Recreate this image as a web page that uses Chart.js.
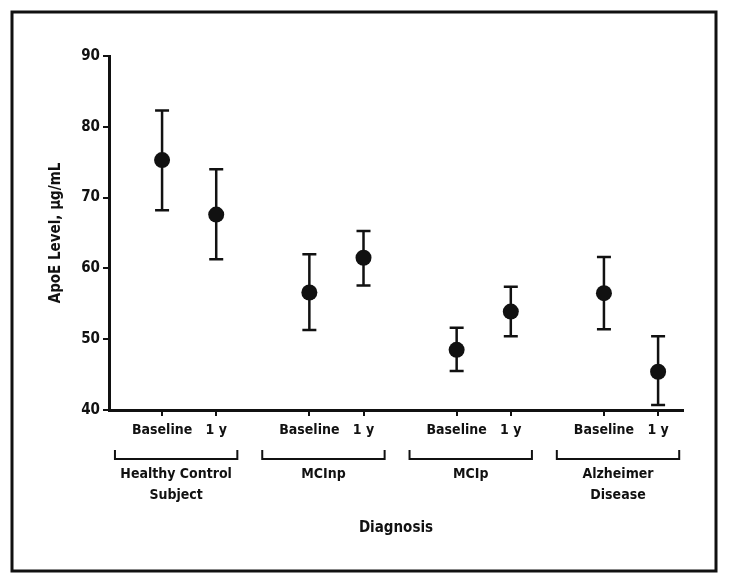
<!DOCTYPE html>
<html>
<head>
<meta charset="utf-8">
<script src="https://cdn.jsdelivr.net/npm/chart.js@4/dist/chart.umd.min.js"></script>
<style>
  html, body { margin: 0; padding: 0; background: #fff; }
  #wrap { width: 729px; height: 584px; }
</style>
</head>
<body>
<div id="wrap"><canvas id="apoeChart" width="729" height="584"></canvas></div>
<script>
// groups and time points
const groupNames = [['Healthy Control', 'Subject'], ['MCInp'], ['MCIp'], ['Alzheimer', 'Disease']];
const timeLabels = ['Baseline', '1 y'];

// ApoE level, µg/mL (mean and error bar ends)
const baselineMean = [75.3, 56.6, 48.5, 56.5];
const baselineHigh = [82.3, 62.0, 51.6, 61.6];
const baselineLow  = [68.2, 51.3, 45.5, 51.4];
const oneYearMean  = [67.6, 61.5, 53.9, 45.4];
const oneYearHigh  = [74.0, 65.3, 57.4, 50.4];
const oneYearLow   = [61.3, 57.6, 50.4, 40.7];

const yTicks = [40, 50, 60, 70, 80, 90];

// spacing of the groups along the x axis (in units of the baseline-to-1y distance)
const GROUP_STEP = 2.72;
const FONT = "'Liberation Sans Narrow', 'Arial Narrow', 'DejaVu Sans Condensed', sans-serif";

const xBase = groupNames.map((g, i) => i * GROUP_STEP);
const xYear = groupNames.map((g, i) => i * GROUP_STEP + 1);

const baselinePts = baselineMean.map((v, i) => ({ x: xBase[i], y: v, hi: baselineHigh[i], lo: baselineLow[i] }));
const yearPts = oneYearMean.map((v, i) => ({ x: xYear[i], y: v, hi: oneYearHigh[i], lo: oneYearLow[i] }));

// x ticks: one under each point
const xTickVals = [];
const xTickText = [];
groupNames.forEach((g, i) => {
    xTickVals.push(xBase[i], xYear[i]);
    xTickText.push(timeLabels[0], timeLabels[1]);
});

// error bars, drawn under the dots
const errorBars = {
    id: 'errorBars',
    beforeDatasetsDraw(chart) {
        const ctx = chart.ctx;
        const xs = chart.scales.x, ys = chart.scales.y;
        ctx.save();
        ctx.strokeStyle = '#111';
        ctx.lineWidth = 2.5;
        chart.data.datasets.forEach(ds => {
            ds.data.forEach(p => {
                const px = xs.getPixelForValue(p.x);
                const top = ys.getPixelForValue(p.hi);
                const bot = ys.getPixelForValue(p.lo);
                ctx.beginPath();
                ctx.moveTo(px, top); ctx.lineTo(px, bot);
                ctx.moveTo(px - 7, top); ctx.lineTo(px + 7, top);
                ctx.moveTo(px - 7, bot); ctx.lineTo(px + 7, bot);
                ctx.stroke();
            });
        });
        ctx.restore();
    }
};

// group brackets, group names, frame
const decorations = {
    id: 'decorations',
    beforeDraw(chart) {
        const ctx = chart.ctx;
        ctx.save();
        ctx.fillStyle = '#fff';
        ctx.fillRect(0, 0, chart.width, chart.height);
        ctx.restore();
    },
    afterDraw(chart) {
        const ctx = chart.ctx;
        const xs = chart.scales.x;
        ctx.save();
        ctx.strokeStyle = '#111';
        ctx.fillStyle = '#111';
        ctx.lineWidth = 2;
        ctx.font = 'bold 14px ' + FONT;
        ctx.textAlign = 'center';
        ctx.textBaseline = 'middle';
        groupNames.forEach((lines, i) => {
            const x0 = xs.getPixelForValue(xBase[i] - 0.87);
            const x1 = xs.getPixelForValue(xYear[i] + 0.39);
            ctx.beginPath();
            ctx.moveTo(x0, 450); ctx.lineTo(x0, 459);
            ctx.lineTo(x1, 459); ctx.lineTo(x1, 450);
            ctx.stroke();
            const cx = (x0 + x1) / 2;
            lines.forEach((t, k) => ctx.fillText(t, cx, 474 + k * 21));
        });
        // outer frame
        ctx.lineWidth = 3;
        ctx.strokeRect(12, 12, 704, 559);
        ctx.restore();
    }
};

new Chart(document.getElementById('apoeChart'), {
    type: 'scatter',
    data: {
        datasets: [
            { label: timeLabels[0], data: baselinePts },
            { label: timeLabels[1], data: yearPts }
        ]
    },
    options: {
        responsive: false,
        animation: false,
        layout: { padding: { top: 56, right: 46, bottom: 0, left: 0 } },
        elements: {
            point: { radius: 8, backgroundColor: '#111', borderColor: '#111', borderWidth: 0 }
        },
        plugins: {
            legend: { display: false },
            tooltip: { enabled: false }
        },
        scales: {
            x: {
                type: 'linear',
                min: -0.98,
                max: 3 * GROUP_STEP + 1.46,
                afterBuildTicks(scale) {
                    scale.ticks = xTickVals.map(v => ({ value: v }));
                },
                afterFit(scale) { scale.height = 174; },
                ticks: {
                    autoSkip: false,
                    maxRotation: 0,
                    padding: 6,
                    color: '#111',
                    font: { family: FONT, size: 14, weight: 'bold' },
                    callback: (v, i) => xTickText[i]
                },
                grid: { drawOnChartArea: false, drawTicks: true, tickLength: 6, color: '#111', lineWidth: 2 },
                border: { display: true, color: '#111', width: 3 },
                title: {
                    display: true,
                    text: 'Diagnosis',
                    color: '#111',
                    font: { family: FONT, size: 15, weight: 'bold' },
                    padding: { top: 0, bottom: 47 }
                }
            },
            y: {
                min: 40,
                max: 90,
                afterBuildTicks(scale) {
                    scale.ticks = yTicks.map(v => ({ value: v }));
                },
                afterFit(scale) { scale.width = 109; },
                ticks: {
                    padding: 3,
                    color: '#111',
                    font: { family: FONT, size: 15, weight: 'bold' }
                },
                grid: { drawOnChartArea: false, drawTicks: true, tickLength: 6, color: '#111', lineWidth: 2 },
                border: { display: true, color: '#111', width: 3 },
                title: {
                    display: true,
                    text: 'ApoE Level, µg/mL',
                    color: '#111',
                    font: { family: FONT, size: 15, weight: 'bold' },
                    padding: { top: 47, bottom: 0 }
                }
            }
        }
    },
    plugins: [errorBars, decorations]
});
</script>
</body>
</html>
